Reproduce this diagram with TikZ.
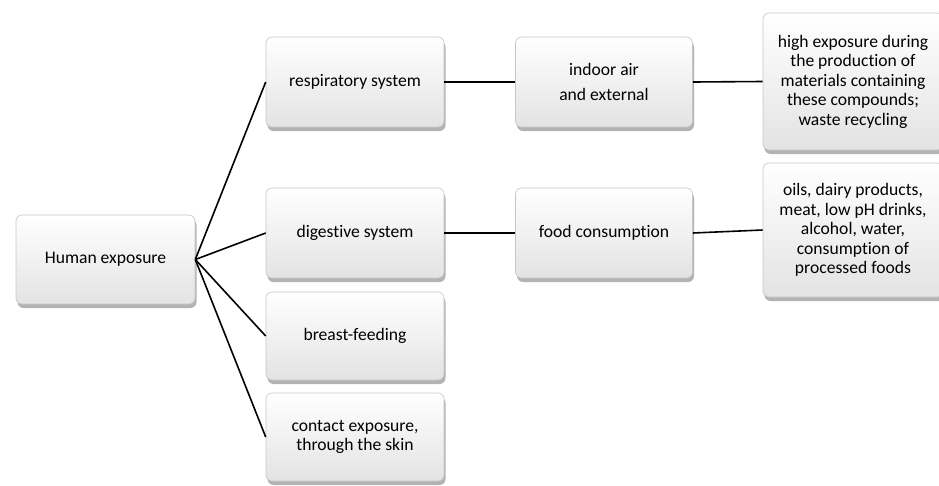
\documentclass[tikz,border=0pt]{standalone}
\usepackage{fontspec}
\setmainfont{Carlito}[Ligatures=NoCommon]
\usetikzlibrary{shadows}
\begin{document}
\begin{tikzpicture}[x=1pt,y=-1pt,
  box/.style={draw=gray!45, line width=0.6pt, rounded corners=6pt,
    top color=white, bottom color=gray!22, shading angle=0,
    drop shadow={opacity=0.6, shadow xshift=1.5pt, shadow yshift=-4pt, fill=gray},
    align=center, inner sep=2pt,
    font=\fontsize{17.6}{19.5}\selectfont, text=black},
  conn/.style={line width=1.6pt, black}]
\useasboundingbox (0,0) rectangle (939,485);
\node[box, minimum width=179pt, minimum height=89pt] (he) at (105.5,259.5) {Human exposure};
\node[box, minimum width=178pt, minimum height=90pt] (rs) at (355,82) {respiratory system};
\node[box, minimum width=178pt, minimum height=90pt] (ds) at (355,233) {digestive system};
\node[box, minimum width=178pt, minimum height=88pt] (bf) at (355,336) {breast-feeding};
\node[box, minimum width=178pt, minimum height=88pt] (ce) at (355,437) {contact exposure,\\ through the skin};
\node[box, minimum width=177pt, minimum height=90pt] (ia) at (604,82) {indoor air\\[5pt] and external};
\node[box, minimum width=177pt, minimum height=90pt] (fc) at (604,233) {food consumption};
\node[box, minimum width=180pt, minimum height=137pt] (hx) at (853,81.5) {high exposure during\\ the production of\\ materials containing\\ these compounds;\\ waste recycling};
\node[box, minimum width=180pt, minimum height=134pt] (od) at (853,230) {oils, dairy products,\\ meat, low pH drinks,\\ alcohol, water,\\ consumption of\\ processed foods};
\draw[conn] (he.east) -- (rs.west);
\draw[conn] (he.east) -- (ds.west);
\draw[conn] (he.east) -- (bf.west);
\draw[conn] (he.east) -- (ce.west);
\draw[conn] (rs.east) -- (ia.west);
\draw[conn] (ia.east) -- (hx.west);
\draw[conn] (ds.east) -- (fc.west);
\draw[conn] (fc.east) -- (od.west);
\end{tikzpicture}
\end{document}
